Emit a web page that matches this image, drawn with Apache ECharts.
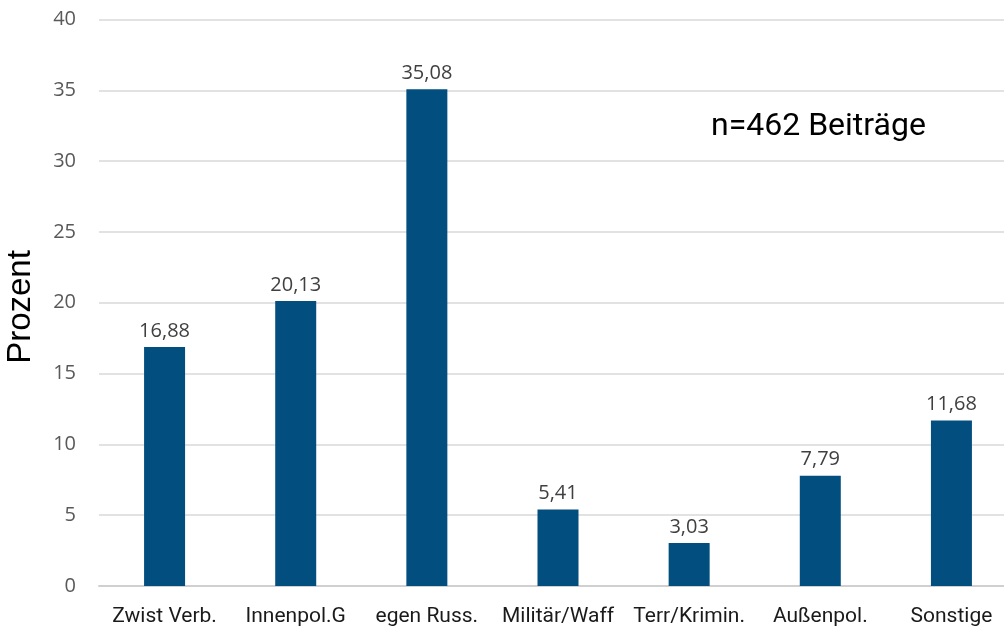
<!DOCTYPE html>
<html>
<head>
<meta charset="utf-8">
<script src="https://cdn.jsdelivr.net/npm/echarts@6/dist/echarts.min.js"></script>
<style>html,body{margin:0;padding:0;background:#fff;}#c{width:1004px;height:627px;}</style>
</head>
<body>
<div id="c"></div>
<script>
const categories = ['Zwist Verb.', 'Innenpol.G', 'egen Russ.', 'Militär/Waff', 'Terr/Krimin.', 'Außenpol.', 'Sonstige'];
const values = [16.88, 20.13, 35.08, 5.41, 3.03, 7.79, 11.68];
const yTicks = [0, 5, 10, 15, 20, 25, 30, 35, 40];
const yAxisTitle = 'Prozent';
const note = 'n=462 Beiträge';

const chart = echarts.init(document.getElementById('c'), null, {renderer: 'canvas'});
chart.setOption({
  animation: false,
  backgroundColor: '#fff',
  grid: {left: 99, top: 19.5, right: -13, bottom: 41, containLabel: false, outerBoundsMode: 'none'},
  xAxis: {
    type: 'category',
    data: categories,
    axisLine: {show: true, lineStyle: {color: '#d0d0d0', width: 2}},
    axisTick: {show: false},
    axisLabel: {color: '#1a1a1a', fontFamily: 'Roboto', fontSize: 21, margin: 20, interval: 0}
  },
  yAxis: {
    type: 'value',
    min: yTicks[0],
    max: yTicks[yTicks.length - 1],
    interval: 5,
    axisLine: {show: false},
    axisTick: {show: false},
    splitLine: {lineStyle: {color: '#d9d9d9', width: 1.5}},
    axisLabel: {color: '#595959', fontFamily: 'Open Sans', fontSize: 20, margin: 23}
  },
  graphic: [
    {type: 'text', left: 711, top: 111, style: {text: note, font: '32px Roboto', fill: '#000'}},
    {type: 'text', x: 21, y: 307, rotation: Math.PI / 2,
     style: {text: yAxisTitle, font: '33px "Liberation Sans"', fill: '#000', align: 'center', verticalAlign: 'middle'}}
  ],
  series: [{
    type: 'bar',
    data: values,
    barWidth: 41,
    itemStyle: {color: '#024e7f'},
    label: {
      show: true, position: 'top', distance: 6,
      color: '#404040', fontFamily: 'Open Sans', fontSize: 20,
      formatter: p => p.value.toFixed(2).replace('.', ',')
    }
  }]
});
</script>
</body>
</html>
